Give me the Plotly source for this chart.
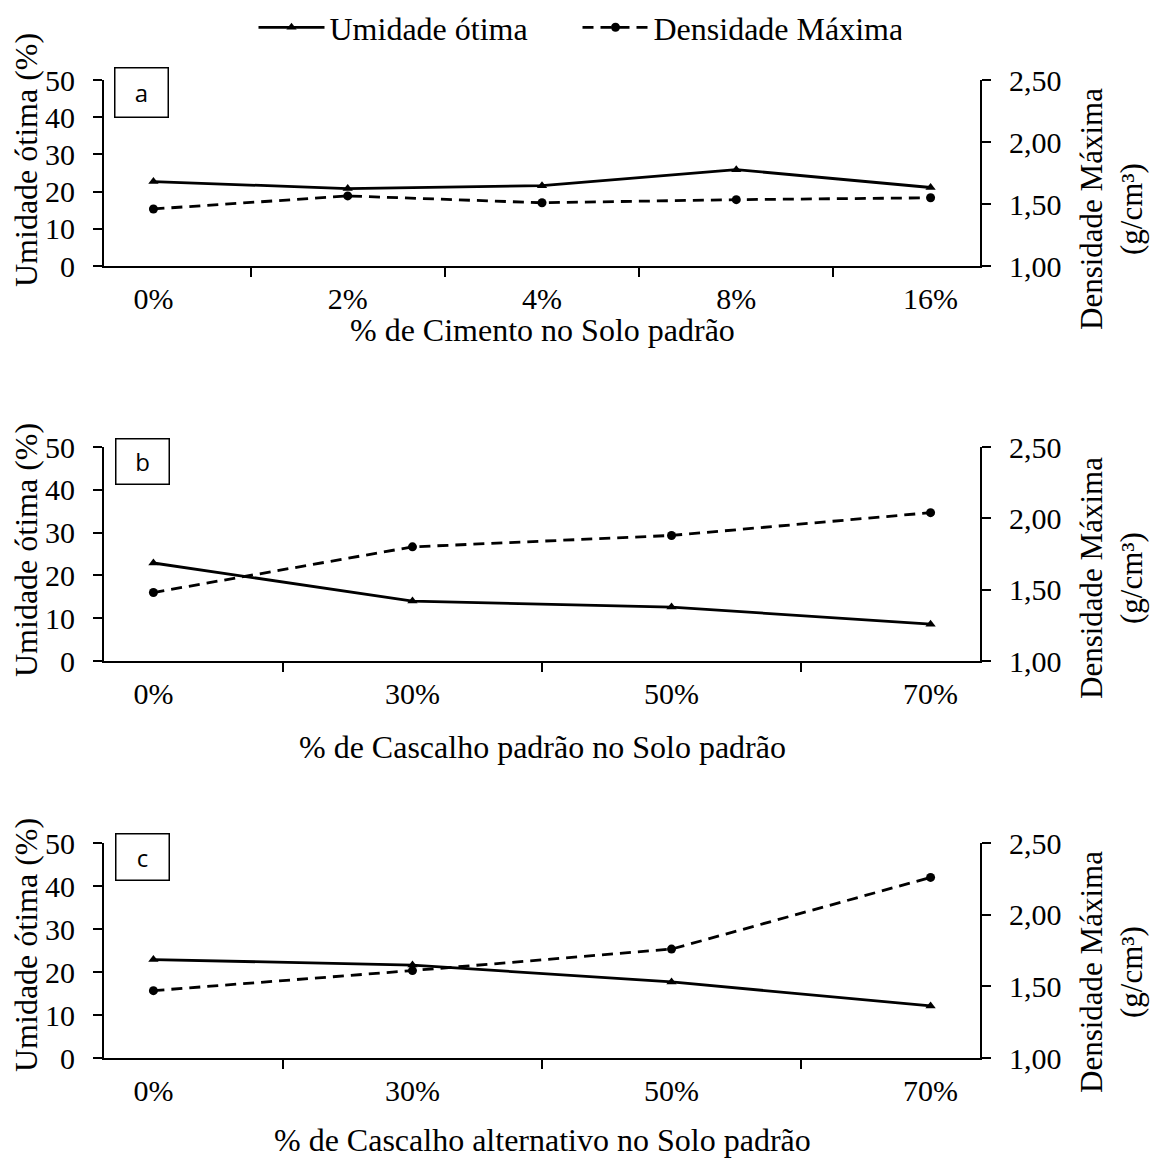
import plotly.graph_objects as go

# ---- data ----
cat_a = ["0%", "2%", "4%", "8%", "16%"]
umid_a = [22.7, 20.8, 21.6, 25.9, 21.1]
dens_a = [1.46, 1.565, 1.51, 1.535, 1.55]

cat_b = ["0%", "30%", "50%", "70%"]
umid_b = [22.9, 14.0, 12.6, 8.6]
dens_b = [1.48, 1.80, 1.88, 2.04]

cat_c = ["0%", "30%", "50%", "70%"]
umid_c = [22.9, 21.6, 17.7, 12.1]
dens_c = [1.47, 1.61, 1.76, 2.26]

xtitles = ["% de Cimento no Solo padrão",
           "% de Cascalho padrão no Solo padrão",
           "% de Cascalho alternativo no Solo padrão"]
panel_labels = ["a", "b", "c"]
left_title = "Umidade ótima (%)"
right_title = "Densidade Máxima<br>(g/cm³)"
name_u = "Umidade ótima"
name_d = "Densidade Máxima"

W, H = 1155, 1158
SERIF = "Liberation Serif"
FS = 30
FT = 32

def px(x):
    return x / W

def py(y):
    return 1 - y / H

# panel geometry (pixels)
x_left, x_right = 104, 980
panels = [(80, 266), (447, 661), (843, 1058)]
ytitle_pos = [160, 550, 945]
xtitle_pos = [330, 747, 1140]
rtitle_pos = [209, 578, 972]
box_pos = [(141, 92.5, 50), (142, 462, 46), (142, 856.5, 47)]

fig = go.Figure()
datasets = [(cat_a, umid_a, dens_a), (cat_b, umid_b, dens_b), (cat_c, umid_c, dens_c)]

for i, (cats, u, d) in enumerate(datasets):
    xa = "x" if i == 0 else f"x{i+1}"
    ya = "y" if i == 0 else f"y{2*i+1}"
    yb = f"y{2*i+2}"
    fig.add_trace(go.Scatter(
        x=cats, y=u, xaxis=xa, yaxis=ya, mode="lines+markers", name=name_u,
        line=dict(color="black", width=2.8),
        marker=dict(symbol="triangle-up", size=9, color="black"),
        showlegend=(i == 0)))
    fig.add_trace(go.Scatter(
        x=cats, y=d, xaxis=xa, yaxis=yb, mode="lines+markers", name=name_d,
        line=dict(color="black", width=2.8, dash="11px,7px"),
        marker=dict(symbol="circle", size=9, color="black"),
        showlegend=(i == 0)))

layout = dict(
    template="none",
    width=W, height=H,
    margin=dict(l=0, r=0, t=0, b=0, autoexpand=False),
    paper_bgcolor="white", plot_bgcolor="white",
    separators=",.",
    font=dict(family=SERIF, size=FS, color="black"),
    legend=dict(orientation="h", x=0.5, xanchor="center", y=1.0, yanchor="top",
                xref="container", yref="container",
                font=dict(family=SERIF, size=FT, color="black"),
                itemwidth=66, entrywidth=243, entrywidthmode="pixels",
                bgcolor="rgba(0,0,0,0)", borderwidth=0),
    annotations=[],
)

axis_common = dict(showgrid=False, zeroline=False, showline=True, linecolor="black",
                   linewidth=2, ticks="outside", ticklen=9, tickwidth=2, tickcolor="black",
                   automargin=False,
                   tickfont=dict(family=SERIF, size=FS, color="black"))

for i, (top, bot) in enumerate(panels):
    xkey = "xaxis" if i == 0 else f"xaxis{i+1}"
    ykey = "yaxis" if i == 0 else f"yaxis{2*i+1}"
    y2key = f"yaxis{2*i+2}"
    xa = "x" if i == 0 else f"x{i+1}"
    ya = "y" if i == 0 else f"y{2*i+1}"
    ydom = [py(bot), py(top)]
    layout[xkey] = dict(axis_common, type="category", tickson="boundaries",
                        domain=[px(x_left), px(x_right)], anchor=ya,
                        ticklabelstandoff=5)
    layout[ykey] = dict(axis_common, domain=ydom, anchor=xa, range=[0, 50],
                        tickvals=[0, 10, 20, 30, 40, 50], ticklabelstandoff=12)
    layout[y2key] = dict(axis_common, domain=ydom, anchor=xa, overlaying=ya,
                         side="right", range=[1, 2.5],
                         tickvals=[1.0, 1.5, 2.0, 2.5], tickformat=".2f",
                         ticklabelstandoff=12)
    # axis titles
    layout["annotations"].append(dict(
        text=left_title, xref="paper", yref="paper", x=px(26), y=py(ytitle_pos[i]),
        xanchor="center", yanchor="middle", textangle=-90, showarrow=False,
        font=dict(family=SERIF, size=FT, color="black")))
    layout["annotations"].append(dict(
        text=xtitles[i], xref="paper", yref="paper", x=px(542), y=py(xtitle_pos[i]),
        xanchor="center", yanchor="middle", showarrow=False,
        font=dict(family=SERIF, size=FT, color="black")))
    layout["annotations"].append(dict(
        text=right_title, xref="paper", yref="paper", x=px(1111), y=py(rtitle_pos[i]),
        xanchor="center", yanchor="middle", textangle=-90, showarrow=False,
        align="center", font=dict(family=SERIF, size=31, color="black")))
    bx, by, bh = box_pos[i]
    layout["annotations"].append(dict(
        text=panel_labels[i], xref="paper", yref="paper", x=px(bx), y=py(by),
        xanchor="center", yanchor="middle", showarrow=False,
        width=52, height=bh - 2, borderpad=0, bordercolor="black", borderwidth=1.5,
        bgcolor="white",
        font=dict(family="Open Sans", size=24, color="black")))

fig.update_layout(**layout)
fig.write_html("out.html")
